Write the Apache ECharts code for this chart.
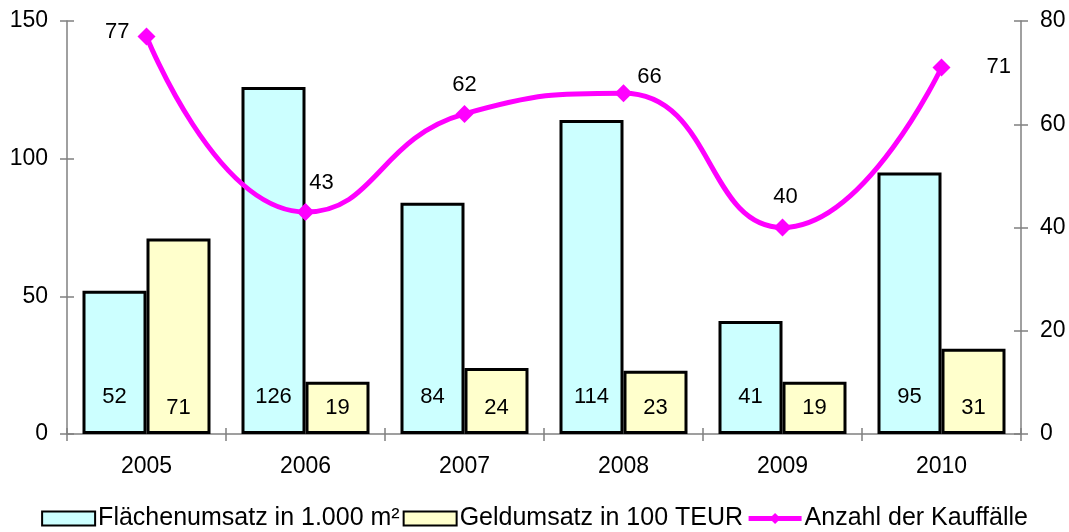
<!DOCTYPE html>
<html>
<head>
<meta charset="utf-8">
<script src="https://cdn.jsdelivr.net/npm/echarts@6/dist/echarts.min.js"></script>
<style>
  html, body { margin: 0; padding: 0; background: #fff; }
  #chart { width: 1069px; height: 532px; }
</style>
</head>
<body>
<div id="chart"></div>
<script>
// Jahre und Werte
const years = ['2005', '2006', '2007', '2008', '2009', '2010'];
const flaechenumsatz = [52, 126, 84, 114, 41, 95];
const geldumsatz = [71, 19, 24, 23, 19, 31];
const kauffaelle = [77, 43, 62, 66, 40, 71];

// Beschriftungslage der Punkte auf der Linie
const lineLabelPlacement = [
  { position: 'left', offset: [0, -5] },
  { position: 'top', offset: [16, -1] },
  { position: 'top', offset: [0, -1] },
  { position: 'top', offset: [26, 12] },
  { position: 'top', offset: [3, -3] },
  { position: 'right', offset: [28, -1] }
];

const FONT = 'Liberation Sans, Arial, Helvetica, sans-serif';
const AXIS_GRAY = '#808080';

const chart = echarts.init(document.getElementById('chart'));

const grid = { left: 67, right: 48, top: 21, bottom: 98 };

const tickAxisY = (pos, min, max, interval, inside, showLabel) => ({
  type: 'value',
  position: pos,
  min: min, max: max, interval: interval,
  splitLine: { show: false },
  axisLine: { show: !inside, lineStyle: { color: AXIS_GRAY, width: 1.5 } },
  axisTick: { show: true, inside: inside, length: 7, lineStyle: { color: AXIS_GRAY, width: 1.5 } },
  axisLabel: { show: showLabel, color: '#000', fontSize: 23, fontFamily: FONT, margin: 19 }
});

chart.setOption({
  animation: false,
  backgroundColor: '#fff',
  grid: grid,
  legend: {
    top: 501,
    left: 'center',
    itemWidth: 53,
    itemHeight: 14,
    itemGap: 3,
    textStyle: { fontSize: 25, fontFamily: FONT, color: '#000', padding: [0, 0, 0, -2] },
    data: [
      { name: 'Flächenumsatz in 1.000 m²', icon: 'rect' },
      { name: 'Geldumsatz in 100 TEUR', icon: 'rect' },
      { name: 'Anzahl der Kauffälle', lineStyle: { width: 5 } }
    ]
  },
  xAxis: [
    {
      type: 'category',
      data: years,
      boundaryGap: true,
      axisLine: { lineStyle: { color: AXIS_GRAY, width: 1.5 } },
      axisTick: { show: true, length: 7, lineStyle: { color: AXIS_GRAY, width: 1.5 } },
      axisLabel: { color: '#000', fontSize: 23, fontFamily: FONT, margin: 21 }
    },
    {
      type: 'category',
      data: years,
      position: 'bottom',
      boundaryGap: true,
      axisLine: { show: false },
      axisTick: { show: true, inside: true, length: 6, lineStyle: { color: AXIS_GRAY, width: 1.5 } },
      axisLabel: { show: false }
    }
  ],
  yAxis: [
    tickAxisY('left', 0, 150, 50, false, true),
    tickAxisY('right', 0, 80, 20, false, true),
    tickAxisY('left', 0, 150, 50, true, false),
    tickAxisY('right', 0, 80, 20, true, false)
  ],
  series: [
    {
      name: 'Flächenumsatz in 1.000 m²',
      type: 'bar',
      data: flaechenumsatz,
      yAxisIndex: 0,
      barGap: '0%',
      barCategoryGap: '19.5%',
      itemStyle: { color: '#CCFFFF', borderColor: '#000', borderWidth: 3 },
      label: {
        show: true, position: 'insideBottom', distance: 26,
        color: '#000', fontSize: 22, fontFamily: FONT
      },
      z: 2
    },
    {
      name: 'Geldumsatz in 100 TEUR',
      type: 'bar',
      data: geldumsatz,
      yAxisIndex: 0,
      itemStyle: { color: '#FFFFCC', borderColor: '#000', borderWidth: 3 },
      label: {
        show: true, position: 'insideBottom', distance: 15,
        color: '#000', fontSize: 22, fontFamily: FONT
      },
      z: 2
    },
    {
      name: 'Anzahl der Kauffälle',
      type: 'line',
      yAxisIndex: 1,
      smooth: 0.5,
      symbol: 'diamond',
      symbolSize: 18,
      lineStyle: { color: '#FF00FF', width: 5 },
      itemStyle: { color: '#FF00FF' },
      data: kauffaelle.map((v, i) => ({
        value: v,
        label: Object.assign({ show: true, distance: 8 }, lineLabelPlacement[i])
      })),
      label: { show: true, color: '#000', fontSize: 22, fontFamily: FONT },
      z: 5
    }
  ]
});
</script>
</body>
</html>
